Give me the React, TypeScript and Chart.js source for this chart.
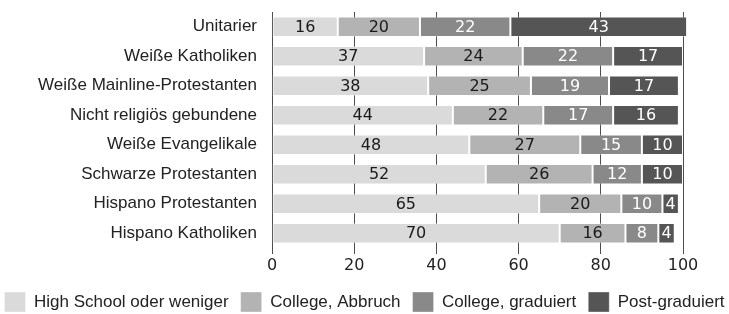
import React, { useEffect, useRef } from "react";
import { Chart, registerables } from "chart.js";

Chart.register(...registerables);

const categories = [
  "Unitarier",
  "Weiße Katholiken",
  "Weiße Mainline-Protestanten",
  "Nicht religiös gebundene",
  "Weiße Evangelikale",
  "Schwarze Protestanten",
  "Hispano Protestanten",
  "Hispano Katholiken",
];

const seriesNames = [
  "High School oder weniger",
  "College, Abbruch",
  "College, graduiert",
  "Post-graduiert",
];

const highSchool = [16, 37, 38, 44, 48, 52, 65, 70];
const collegeAbbruch = [20, 24, 25, 22, 27, 26, 20, 16];
const collegeGraduiert = [22, 22, 19, 17, 15, 12, 10, 8];
const postGraduiert = [43, 17, 17, 16, 10, 10, 4, 4];

const seriesColors = ["#dadada", "#b3b3b3", "#898989", "#555555"];
const labelColors = ["#1a1a1a", "#1a1a1a", "#ffffff", "#ffffff"];

const xMin = 0;
const xMax = 100;
const xStep = 20;

const valueLabelPlugin = {
  id: "valueLabels",
  afterDatasetsDraw(chart: any) {
    const ctx = chart.ctx;
    ctx.save();
    ctx.font = "16px 'DejaVu Sans'";
    ctx.textAlign = "center";
    ctx.textBaseline = "middle";
    chart.data.datasets.forEach((ds: any, i: number) => {
      const meta = chart.getDatasetMeta(i);
      meta.data.forEach((el: any, j: number) => {
        const { x, base, y } = el.getProps(["x", "base", "y"], true);
        ctx.fillStyle = labelColors[i];
        ctx.fillText(String(ds.data[j]), (x + base) / 2, y + 1);
      });
    });
    ctx.restore();
  },
};

export default function App() {
  const canvasRef = useRef<HTMLCanvasElement | null>(null);

  useEffect(() => {
    if (!canvasRef.current) return;
    const data = [highSchool, collegeAbbruch, collegeGraduiert, postGraduiert];
    const chart = new Chart(canvasRef.current, {
      type: "bar",
      data: {
        labels: categories,
        datasets: data.map((d, i) => ({
          label: seriesNames[i],
          data: d,
          backgroundColor: seriesColors[i],
          borderColor: "rgba(255,255,255,0.35)",
          borderWidth: 1,
          borderSkipped: false,
          categoryPercentage: 1,
          barPercentage: 0.69,
          clip: false as any,
        })),
      },
      plugins: [valueLabelPlugin],
      options: {
        indexAxis: "y",
        animation: false,
        responsive: false,
        maintainAspectRatio: false,
        layout: { padding: { top: 12, right: -10, left: -10, bottom: -8 } },
        scales: {
          x: {
            stacked: true,
            min: xMin,
            max: xMax,
            ticks: {
              stepSize: xStep,
              font: { family: "'DejaVu Sans'", size: 16 },
              color: "#222222",
              padding: 2.4,
            },
            grid: {
              color: "#4d4d4d",
              lineWidth: 1,
              tickLength: 6,
              drawTicks: true,
            },
            border: { display: false },
            afterFit: (scale: any) => {
              scale.paddingRight = 46;
              scale.paddingLeft = 0;
              scale.height = 32;
            },
          },
          y: {
            stacked: true,
            grid: { display: false, drawTicks: false },
            border: { display: false },
            ticks: {
              autoSkip: false,
              font: { family: "'Liberation Sans'", size: 17 },
              color: "#222222",
              padding: 15,
            },
            afterFit: (scale: any) => {
              scale.width = 282;
              scale.paddingTop = 0;
              scale.paddingBottom = 0;
            },
          },
        },
        plugins: {
          legend: {
            position: "bottom",
            labels: {
              boxWidth: 21,
              boxHeight: 20,
              padding: 12,
              color: "#222222",
              font: { family: "'Liberation Sans'", size: 17 },
            },
          },
          tooltip: { enabled: false },
        },
      },
    });
    return () => chart.destroy();
  }, []);

  return (
    <div style={{ position: "fixed", left: 0, top: 0, width: 729, height: 314, background: "#ffffff" }}>
      <canvas ref={canvasRef} width={729} height={314} style={{ width: 729, height: 314 }} />
    </div>
  );
}
